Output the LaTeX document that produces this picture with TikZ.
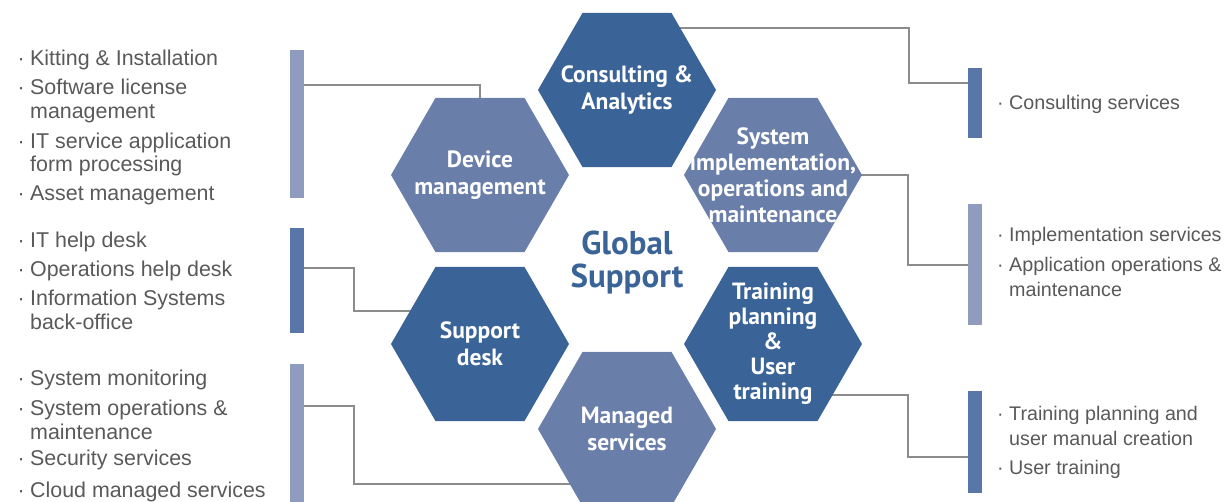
\documentclass[tikz,border=0pt]{standalone}
\usepackage{fontspec}
\setmainfont{Liberation Sans}
\newfontfamily\hexfont{PT Sans}
\usetikzlibrary{shapes.geometric,backgrounds}
\definecolor{hexdark}{HTML}{3A6397}
\definecolor{hexlight}{HTML}{6A7EAA}
\definecolor{bardark}{HTML}{5877A8}
\definecolor{barlight}{HTML}{8F9CC0}
\definecolor{linegray}{HTML}{8C8C8C}
\definecolor{txtgray}{HTML}{595959}
\newcommand{\bul}{\llap{·\hspace{5.5pt}}}
\begin{document}
\begin{tikzpicture}[x=1pt,y=-1pt,
 hex/.style={regular polygon, regular polygon sides=6, minimum size=178pt, inner sep=0pt, outer sep=0pt},
 hexD/.style={hex, fill=hexdark},
 hexL/.style={hex, fill=hexlight},
 hextxt/.style={text=white, font=\hexfont\bfseries\fontsize{23.5}{27}\selectfont, align=center, inner sep=0pt},
 bar/.style={anchor=north west, minimum width=14pt, inner sep=0pt, outer sep=0pt},
 conn/.style={draw=linegray, line width=1.5pt},
 itm/.style={anchor=base west, inner sep=0pt, text=txtgray, font=\fontsize{21.4}{24}\selectfont},
 itmr/.style={itm, font=\fontsize{19.7}{24}\selectfont},
]
\useasboundingbox (0,0) rectangle (1226,502);

% hexagons
\node[hexD] (ca) at (627,90) {};
\node[hexL] (dm) at (480,175) {};
\node[hexL] (si) at (773,175) {};
\node[hexD] (sd) at (480,344) {};
\node[hexD] (tp) at (773,344) {};
\node[hexL] (ms) at (627,429) {};

\node[hextxt] (caT) at (ca) {Consulting \&\\Analytics};
\node[hextxt] (dmT) at (dm) {Device\\management};
\node[hextxt, font=\hexfont\bfseries\fontsize{23.5}{26}\selectfont] (siT) at (si) {System\\implementation,\\operations and\\maintenance};
\node[hextxt] (sdT) at (sd) {Support\\desk};
\node[hextxt, font=\hexfont\bfseries\fontsize{23.5}{25}\selectfont] (tpT) at (tp) {Training\\planning\\\&\\User\\training};
\node[hextxt] (msT) at (ms) {Managed\\services};

\node[text=hexdark, font=\hexfont\bfseries\fontsize{33}{33}\selectfont, align=center, inner sep=0pt] (gs) at (627,263) {Global\\Support};

% bars
\node[bar, fill=barlight, minimum height=148pt] (bL1) at (290,50) {};
\node[bar, fill=bardark,  minimum height=105pt] (bL2) at (290,228) {};
\node[bar, fill=barlight, minimum height=138pt] (bL3) at (290,364) {};
\node[bar, fill=bardark,  minimum height=70pt]  (bR1) at (968,68) {};
\node[bar, fill=barlight, minimum height=121pt] (bR2) at (968,204) {};
\node[bar, fill=bardark,  minimum height=102pt] (bR3) at (968,391) {};

% connectors
\begin{pgfonlayer}{background}
\draw[conn] (ca.center |- 0,28) -| (909,83) -- (bR1.west |- 0,83);
\draw[conn] (bL1.east |- 0,85) -| (dm.north);
\draw[conn] (bL2.east |- 0,268) -| (354,311) -- (sd.center |- 0,311);
\draw[conn] (bL3.east |- 0,406) -| (354,484) -- (ms.center |- 0,484);
\draw[conn] (si.center |- 0,175) -| (908,265) -- (bR2.west |- 0,265);
\draw[conn] (tp.center |- 0,395) -| (908,457) -- (bR3.west |- 0,457);
\end{pgfonlayer}

% left lists
\node[itm] (l1) at (30,66) {\bul Kitting \& Installation};
\node[itm] (l2) at (30,95) {\bul Software license};
\node[itm] (l3) at (30,119) {management};
\node[itm] (l4) at (30,149) {\bul IT service application};
\node[itm] (l5) at (30,172) {form processing};
\node[itm] (l6) at (30,201) {\bul Asset management};

\node[itm] (l7) at (30,248) {\bul IT help desk};
\node[itm] (l8) at (30,277) {\bul Operations help desk};
\node[itm] (l9) at (30,306) {\bul Information Systems};
\node[itm] (l10) at (30,330) {back-office};

\node[itm] (l11) at (30,385) {\bul System monitoring};
\node[itm] (l12) at (30,415) {\bul System operations \&};
\node[itm] (l13) at (30,439) {maintenance};
\node[itm] (l14) at (30,465) {\bul Security services};
\node[itm] (l15) at (30,497) {\bul Cloud managed services};

% right lists
\node[itmr] (r1) at (1009,110) {\bul Consulting services};
\node[itmr] (r2) at (1009,242) {\bul Implementation services};
\node[itmr] (r3) at (1009,272) {\bul Application operations \&};
\node[itmr] (r4) at (1009,297) {maintenance};
\node[itmr] (r5) at (1009,420) {\bul Training planning and};
\node[itmr] (r6) at (1009,445) {user manual creation};
\node[itmr] (r7) at (1009,474) {\bul User training};
\end{tikzpicture}
\end{document}
